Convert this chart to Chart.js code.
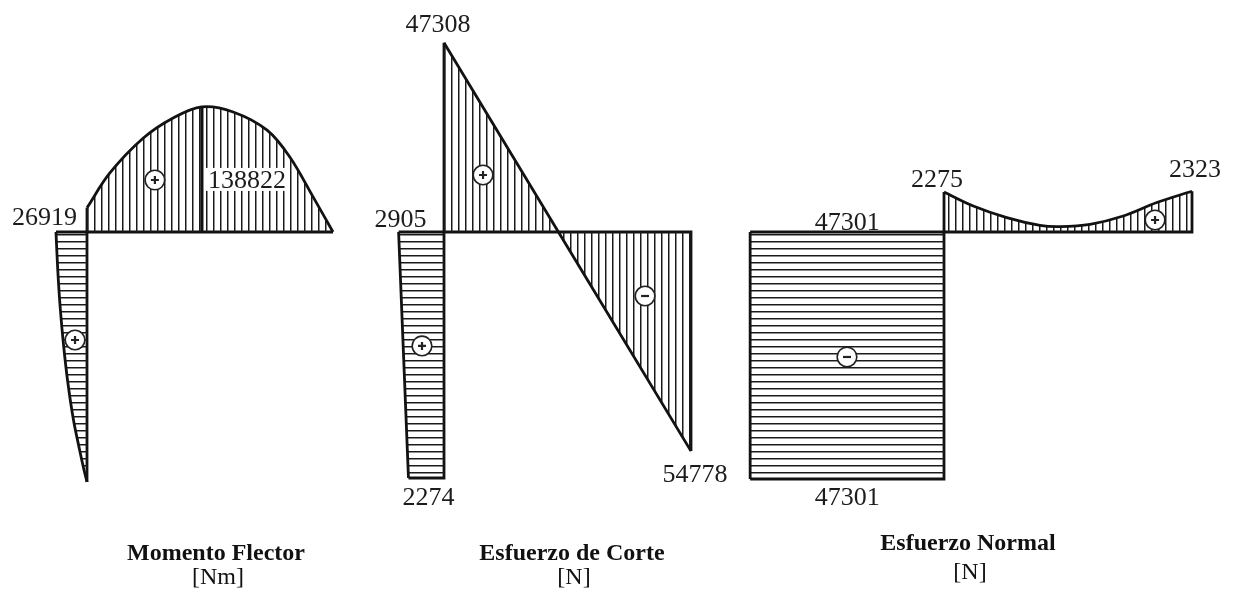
<!DOCTYPE html>
<html lang="es">
<head>
<meta charset="utf-8">
<title>Diagramas de esfuerzos</title>
<script src="https://cdn.jsdelivr.net/npm/chart.js@4/dist/chart.umd.min.js"></script>
<style>
  html, body { margin: 0; padding: 0; background: #fff; }
  #lienzo { display: block; }
</style>
</head>
<body>
<canvas id="lienzo" width="1234" height="594"></canvas>
<script>
// ---- Valores de los diagramas (posición = fracción del largo de la barra) ----

// Momento flector [Nm]
const posMomentoViga = [0, 0.093, 0.228, 0.35, 0.467, 0.594, 0.732, 0.825, 0.919, 1];
const momentoViga = [26919, 65500, 104000, 126500, 138822, 133200, 113000, 83000, 39000, 0];
const posMomentoColumna = [0, 0.15, 0.3, 0.45, 0.6, 0.75, 0.87, 0.95, 1];
const momentoColumna = [26919, 25400, 23300, 20400, 16700, 11800, 6500, 2700, 0];

// Esfuerzo de corte [N]
const posCorteViga = [0, 1];
const corteViga = [47308, -54778];
const posCorteColumna = [0, 1];
const corteColumna = [2905, 2274];

// Esfuerzo normal [N]
const posNormalViga = [0, 0.118, 0.253, 0.387, 0.468, 0.589, 0.723, 0.858, 1];
const normalViga = [2275, 1480, 820, 380, 310, 440, 910, 1680, 2323];
const posNormalColumna = [0, 1];
const normalColumna = [-47301, -47301];

// Títulos y unidades
const titulos = ['Momento Flector', 'Esfuerzo de Corte', 'Esfuerzo Normal'];
const unidades = ['[Nm]', '[N]', '[N]'];

// ---- Disposición de cada diagrama ----
const ANCHO = 1234, ALTO = 594;
const TINTA = '#121212';
const FUENTE = '"Liberation Serif", "Times New Roman", serif';

// nudo viga-columna (px), largo dibujado de cada barra (px), unidades por px
const paneles = [
  { nudo: [87, 232],  vigaPx: 246, colPx: 250, escViga: 1110, escCol: 868, colHaciaIzq: +1,
    titulo: [216, 560, 584] },
  { nudo: [444, 232], vigaPx: 247, colPx: 246, escViga: 250,  escCol: 64,  colHaciaIzq: +1,
    titulo: [572, 560, 584] },
  { nudo: [944, 232], vigaPx: 248, colPx: 247, escViga: 57,   escCol: 244, colHaciaIzq: -1,
    titulo: [968, 550, 579] }
];

const diagramas = [
  { viga: [posMomentoViga, momentoViga], col: [posMomentoColumna, momentoColumna] },
  { viga: [posCorteViga, corteViga],     col: [posCorteColumna, corteColumna] },
  { viga: [posNormalViga, normalViga],   col: [posNormalColumna, normalColumna] }
];

// Signos dentro de cada área (posición, valor)
const signos = [
  { panel: 0, miembro: 'viga', pos: 0.276, valor: 57700,  signo: '+' },
  { panel: 0, miembro: 'col',  pos: 0.432, valor: 10400,  signo: '+' },
  { panel: 1, miembro: 'viga', pos: 0.158, valor: 14250,  signo: '+' },
  { panel: 1, miembro: 'viga', pos: 0.814, valor: -16000, signo: '-' },
  { panel: 1, miembro: 'col',  pos: 0.463, valor: 1408,   signo: '+' },
  { panel: 2, miembro: 'viga', pos: 0.851, valor: 684,    signo: '+' },
  { panel: 2, miembro: 'col',  pos: 0.506, valor: -23670, signo: '-' }
];

// Rótulos de valores: punto de la serie al que se refieren y desplazamiento del texto
const rotulos = [
  { panel: 0, miembro: 'col',  pos: posMomentoColumna, val: momentoColumna, k: 0, dx: 21, dy: -7, align: 'right' },
  { panel: 0, miembro: 'viga', pos: posMomentoViga, val: momentoViga, k: 4, dx: 6, dy: 81, align: 'left', fondo: true },
  { panel: 1, miembro: 'viga', pos: posCorteViga, val: corteViga, k: 0, dx: -6, dy: -11, align: 'center' },
  { panel: 1, miembro: 'col',  pos: posCorteColumna, val: corteColumna, k: 0, dx: 28, dy: -5, align: 'right' },
  { panel: 1, miembro: 'col',  pos: posCorteColumna, val: corteColumna, k: 1, dx: 20, dy: 27, align: 'center' },
  { panel: 1, miembro: 'viga', pos: posCorteViga, val: corteViga, k: 1, dx: 4, dy: 31, align: 'center' },
  { panel: 2, miembro: 'col',  pos: posNormalColumna, val: normalColumna, k: 0, dx: 97, dy: -2, align: 'center' },
  { panel: 2, miembro: 'col',  pos: posNormalColumna, val: normalColumna, k: 1, dx: 97, dy: 26, align: 'center' },
  { panel: 2, miembro: 'viga', pos: posNormalViga, val: normalViga, k: 0, dx: -7, dy: -5, align: 'center' },
  { panel: 2, miembro: 'viga', pos: posNormalViga, val: normalViga, k: 8, dx: 3, dy: -14, align: 'center' }
];

// ---- Rayados ----
const lienzo = document.getElementById('lienzo');
const ctxPrincipal = lienzo.getContext('2d');
function rayado(vertical) {
  const c = document.createElement('canvas');
  c.width = 7; c.height = 7;
  const g = c.getContext('2d');
  g.fillStyle = '#1a1a1a';
  if (vertical) g.fillRect(3, 0, 1, 7); else g.fillRect(0, 3, 7, 1);
  g.fillStyle = 'rgba(30,30,30,0.5)';
  if (vertical) g.fillRect(4, 0, 1, 7); else g.fillRect(0, 4, 7, 1);
  return ctxPrincipal.createPattern(c, 'repeat');
}
const rayadoVertical = rayado(true);
const rayadoHorizontal = rayado(false);

// ---- Escalas: una pareja para cada viga y otra para cada columna ----
const scales = {};
paneles.forEach((p, i) => {
  const [jx, jy] = p.nudo;
  const base = { type: 'linear', display: false, bounds: 'data' };
  scales['xv' + i] = { ...base, axis: 'x', min: -jx / p.vigaPx, max: (ANCHO - jx) / p.vigaPx };
  scales['yv' + i] = { ...base, axis: 'y', min: -(ALTO - jy) * p.escViga, max: jy * p.escViga };
  const izq = p.colHaciaIzq > 0;
  scales['xc' + i] = { ...base, axis: 'x', reverse: izq,
    min: izq ? -(ANCHO - jx) * p.escCol : -jx * p.escCol,
    max: izq ? jx * p.escCol : (ANCHO - jx) * p.escCol };
  scales['yc' + i] = { ...base, axis: 'y', reverse: true, min: -jy / p.colPx, max: (ALTO - jy) / p.colPx };
});

// ---- Conjuntos de datos ----
const trazo = { borderColor: TINTA, borderWidth: 2.8, pointRadius: 0, pointHoverRadius: 0,
  borderJoinStyle: 'miter', borderCapStyle: 'butt' };
const datasets = [];
diagramas.forEach((d, i) => {
  const [pv, vv] = d.viga;
  const [pc, vc] = d.col;
  const ult = pv.length - 1, ultC = pc.length - 1;
  // viga: área rayada y borde del diagrama
  datasets.push({ ...trazo, xAxisID: 'xv' + i, yAxisID: 'yv' + i,
    data: pv.map((s, k) => ({ x: s, y: vv[k] })),
    fill: 'origin', backgroundColor: rayadoVertical, tension: 0.35 });
  // viga: cierres rectos y eje
  datasets.push({ ...trazo, xAxisID: 'xv' + i, yAxisID: 'yv' + i, fill: false, tension: 0,
    data: [{ x: pv[0], y: vv[0] }, { x: pv[0], y: 0 }, { x: pv[ult], y: 0 }, { x: pv[ult], y: vv[ult] }] });
  // columna: área rayada y borde del diagrama
  datasets.push({ ...trazo, indexAxis: 'y', xAxisID: 'xc' + i, yAxisID: 'yc' + i,
    data: pc.map((t, k) => ({ x: vc[k], y: t })),
    fill: 'origin', backgroundColor: rayadoHorizontal, tension: 0.35 });
  // columna: cierres rectos y eje
  datasets.push({ ...trazo, xAxisID: 'xc' + i, yAxisID: 'yc' + i, fill: false, tension: 0,
    data: [{ x: vc[0], y: pc[0] }, { x: 0, y: pc[0] }, { x: 0, y: pc[ultC] }, { x: vc[ultC], y: pc[ultC] }] });
});
// ordenada del momento máximo
const kMax = momentoViga.indexOf(Math.max(...momentoViga));
datasets.push({ ...trazo, borderWidth: 3.2, xAxisID: 'xv0', yAxisID: 'yv0', fill: false, tension: 0,
  data: [{ x: posMomentoViga[kMax], y: 0 }, { x: posMomentoViga[kMax], y: momentoViga[kMax] }] });

// ---- Signos, valores y títulos ----
const anotaciones = {
  id: 'anotaciones',
  afterDatasetsDraw(chart) {
    const ctx = chart.ctx;
    const aPx = (i, miembro, pos, valor) => miembro === 'viga'
      ? [chart.scales['xv' + i].getPixelForValue(pos), chart.scales['yv' + i].getPixelForValue(valor)]
      : [chart.scales['xc' + i].getPixelForValue(valor), chart.scales['yc' + i].getPixelForValue(pos)];

    ctx.save();
    signos.forEach(s => {
      const [x, y] = aPx(s.panel, s.miembro, s.pos, s.valor);
      ctx.beginPath();
      ctx.arc(x, y, 9.8, 0, Math.PI * 2);
      ctx.fillStyle = '#fff';
      ctx.fill();
      ctx.lineWidth = 1.6;
      ctx.strokeStyle = '#222';
      ctx.stroke();
      ctx.beginPath();
      ctx.lineWidth = 2.2;
      ctx.moveTo(x - 4, y); ctx.lineTo(x + 4, y);
      if (s.signo === '+') { ctx.moveTo(x, y - 4); ctx.lineTo(x, y + 4); }
      ctx.stroke();
    });

    ctx.font = '26px ' + FUENTE;
    ctx.textBaseline = 'alphabetic';
    rotulos.forEach(r => {
      const [x, y] = aPx(r.panel, r.miembro, r.pos[r.k], r.val[r.k]);
      const texto = String(Math.abs(r.val[r.k]));
      const tx = x + r.dx, ty = y + r.dy;
      ctx.textAlign = r.align;
      if (r.fondo) {
        const w = ctx.measureText(texto).width;
        const x0 = r.align === 'left' ? tx : r.align === 'right' ? tx - w : tx - w / 2;
        ctx.fillStyle = '#fff';
        ctx.fillRect(x0 - 2, ty - 20, w + 4, 23);
      }
      ctx.fillStyle = '#1c1c1c';
      ctx.fillText(texto, tx, ty);
    });

    ctx.textAlign = 'center';
    paneles.forEach((p, i) => {
      const [cx, yT, yU] = p.titulo;
      ctx.fillStyle = '#111';
      ctx.font = 'bold 24px ' + FUENTE;
      ctx.fillText(titulos[i], cx, yT);
      ctx.font = '24px ' + FUENTE;
      ctx.fillText(unidades[i], cx + 2, yU);
    });
    ctx.restore();
  }
};

new Chart(lienzo, {
  type: 'line',
  data: { datasets },
  options: {
    responsive: false,
    animation: false,
    devicePixelRatio: 1,
    layout: { padding: 0 },
    events: [],
    plugins: { legend: { display: false }, tooltip: { enabled: false } },
    scales
  },
  plugins: [anotaciones]
});
</script>
</body>
</html>
